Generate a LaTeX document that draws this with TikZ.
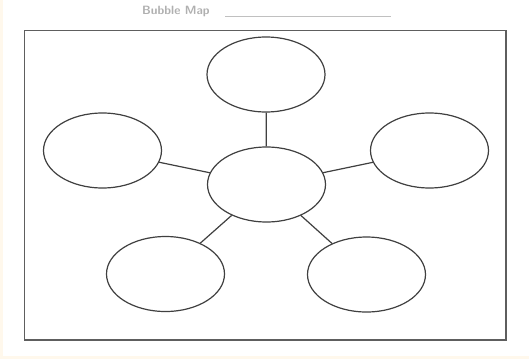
\documentclass[tikz,border=0pt]{standalone}
\usetikzlibrary{shapes.geometric}
\definecolor{cream}{HTML}{FFF8EC}
\definecolor{inkgray}{HTML}{404040}
\definecolor{framegray}{HTML}{5E5E5E}
\definecolor{titlegray}{HTML}{B0B0B0}
\begin{document}
\begin{tikzpicture}[x=1pt,y=-1pt,
  bubble/.style={ellipse,draw=inkgray,line width=1.2pt,fill=white,
    minimum width=118pt,minimum height=75pt,inner sep=0pt},
  link/.style={draw=inkgray,line width=1.2pt},
  framebox/.style={draw=framegray,line width=1.8pt}]
\useasboundingbox (0,0) rectangle (529,359);
\fill[cream] (0,0) rectangle (529,359);
\fill[white] (3,0) rectangle (529,356);
% title
\node[text=titlegray,font=\sffamily\bfseries\fontsize{12}{13}\selectfont,anchor=west,inner sep=0pt] (title) at (142,11.5) {Bubble Map};
\coordinate (ul1) at (225,16);
\coordinate (ul2) at (391,16);
\draw[titlegray!80,line width=0.9pt] (ul1) -- (ul2);
% frame
\coordinate (f1) at (24.5,30.5);
\coordinate (f2) at (506,340);
\draw[framebox] (f1) rectangle (f2);
% bubbles
\node[bubble] (c)  at (266.5,184.5) {};
\node[bubble] (t)  at (266,74.5) {};
\node[bubble] (l)  at (102.5,150.5) {};
\node[bubble] (r)  at (429.5,150.5) {};
\node[bubble] (bl) at (165.5,274) {};
\node[bubble] (br) at (366.5,274.5) {};
% links
\draw[link] (c) -- (t);
\draw[link] (c) -- (l);
\draw[link] (c) -- (r);
\draw[link] (c) -- (bl);
\draw[link] (c) -- (br);
\end{tikzpicture}
\end{document}
